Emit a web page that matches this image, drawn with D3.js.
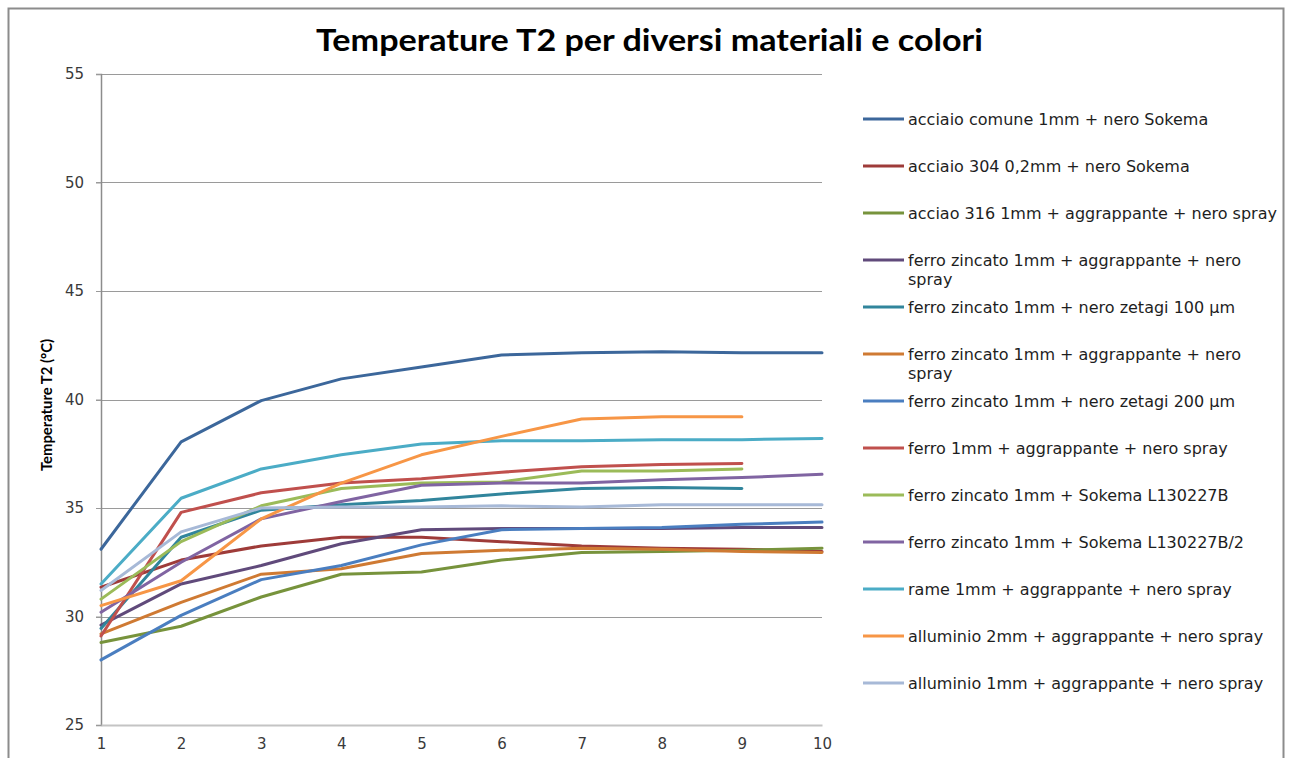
<!DOCTYPE html>
<html>
<head>
<meta charset="utf-8">
<script src="https://cdn.jsdelivr.net/npm/d3@7/dist/d3.min.js"></script>
<style>
  html, body { margin: 0; padding: 0; background: #ffffff; }
  svg { display: block; }
</style>
</head>
<body>
<svg id="chart" width="1290" height="758"></svg>
<script>
// Misurazioni (1..10) e temperature T2 in °C per ogni campione
const xValues = [1, 2, 3, 4, 5, 6, 7, 8, 9, 10];
const yTicks = [25, 30, 35, 40, 45, 50, 55];

const seriesNames = [
  "acciaio comune 1mm + nero Sokema",
  "acciaio 304 0,2mm + nero Sokema",
  "acciao 316 1mm + aggrappante + nero spray",
  "ferro zincato 1mm + aggrappante + nero spray",
  "ferro zincato 1mm + nero zetagi 100 µm",
  "ferro zincato 1mm + aggrappante + nero spray",
  "ferro zincato 1mm + nero zetagi 200 µm",
  "ferro 1mm + aggrappante + nero spray",
  "ferro zincato 1mm + Sokema L130227B",
  "ferro zincato 1mm + Sokema L130227B/2",
  "rame 1mm + aggrappante + nero spray",
  "alluminio 2mm + aggrappante + nero spray",
  "alluminio 1mm + aggrappante + nero spray"
];

const acciaioComune   = [33.1, 38.05, 39.95, 40.95, 41.5, 42.05, 42.15, 42.2, 42.15, 42.15];
const acciaio304      = [31.35, 32.6, 33.25, 33.65, 33.65, 33.45, 33.25, 33.15, 33.1, 33.0];
const acciaio316      = [28.8, 29.55, 30.9, 31.95, 32.05, 32.6, 32.95, 33.0, 33.05, 33.15];
const zincatoAggr     = [29.6, 31.5, 32.35, 33.35, 34.0, 34.05, 34.05, 34.05, 34.1, 34.1];
const zincatoZetagi100 = [29.45, 33.65, 34.9, 35.15, 35.35, 35.65, 35.9, 35.95, 35.9];
const zincatoAggrBis  = [29.2, 30.65, 31.95, 32.2, 32.9, 33.05, 33.15, 33.1, 33.0, 32.95];
const zincatoZetagi200 = [28.0, 30.05, 31.7, 32.35, 33.3, 34.0, 34.05, 34.1, 34.25, 34.35];
const ferroAggr       = [29.1, 34.8, 35.7, 36.15, 36.35, 36.65, 36.9, 37.0, 37.05];
const zincatoSokemaB  = [30.8, 33.45, 35.1, 35.9, 36.15, 36.2, 36.7, 36.7, 36.8];
const zincatoSokemaB2 = [30.2, 32.5, 34.5, 35.3, 36.05, 36.15, 36.15, 36.3, 36.4, 36.55];
const rameAggr        = [31.5, 35.45, 36.8, 37.45, 37.95, 38.1, 38.1, 38.15, 38.15, 38.2];
const alluminio2mm    = [30.5, 31.65, 34.5, 36.15, 37.45, 38.3, 39.1, 39.2, 39.2];
const alluminio1mm    = [31.2, 33.9, 35.0, 35.05, 35.05, 35.1, 35.05, 35.15, 35.15, 35.15];

const seriesValues = [
  acciaioComune, acciaio304, acciaio316, zincatoAggr, zincatoZetagi100,
  zincatoAggrBis, zincatoZetagi200, ferroAggr, zincatoSokemaB, zincatoSokemaB2,
  rameAggr, alluminio2mm, alluminio1mm
];

const seriesColors = [
  "#3C679B", "#9E3B39", "#77933C", "#604A7B", "#31859C",
  "#CF7A33", "#4A7EC0", "#C0504D", "#9BBB59", "#8064A2",
  "#4BACC6", "#F79646", "#A7B9D7"
];

const svg = d3.select("#chart");

// Cornice dell'area del grafico
svg.append("rect")
  .attr("x", 8.5).attr("y", 8.5)
  .attr("width", 1275).attr("height", 770)
  .attr("fill", "none")
  .attr("stroke", "#8c8c8c")
  .attr("stroke-width", 2);

// Scale
const x = d3.scaleLinear().domain([1, 10]).range([101, 822]);
const y = d3.scaleLinear().domain([25, 55]).range([725, 74]);

// Titolo
svg.append("text")
  .attr("x", 649.5).attr("y", 39)
  .attr("text-anchor", "middle")
  .attr("dominant-baseline", "central")
  .attr("font-family", "Lato, 'Open Sans', sans-serif")
  .attr("font-weight", "bold")
  .attr("font-size", 31)
  .attr("textLength", 667)
  .attr("lengthAdjust", "spacingAndGlyphs")
  .attr("fill", "#000")
  .text("Temperature T2 per diversi materiali e colori");

// Griglia orizzontale
svg.append("g")
  .selectAll("line")
  .data(yTicks.filter(d => d !== 25))
  .join("line")
  .attr("x1", x(1) - 5).attr("x2", x(10))
  .attr("y1", d => Math.round(y(d)) + 0.5)
  .attr("y2", d => Math.round(y(d)) + 0.5)
  .attr("stroke", "#9a9a9a")
  .attr("stroke-width", 1);

// Asse Y
const yAxis = d3.axisLeft(y).tickValues(yTicks).tickSize(5).tickPadding(12).tickFormat(d3.format("d"));
const gy = svg.append("g")
  .attr("transform", `translate(${x(1)},0)`)
  .call(yAxis);
gy.select(".domain").attr("stroke", "#8c8c8c").attr("stroke-width", 1.5);
gy.selectAll(".tick line").attr("stroke", "#9a9a9a");
gy.selectAll(".tick text")
  .attr("font-family", "'DejaVu Sans', Verdana, sans-serif")
  .attr("font-size", 15)
  .attr("fill", "#3a3a3a");

// Asse X
const xAxis = d3.axisBottom(x).tickValues(xValues).tickSize(0).tickPadding(13).tickFormat(d3.format("d"));
const gx = svg.append("g")
  .attr("transform", `translate(0,${y(25)})`)
  .call(xAxis);
gx.select(".domain").attr("stroke", "#c4c4c4").attr("stroke-width", 2);
gx.selectAll(".tick text")
  .attr("font-family", "'DejaVu Sans', Verdana, sans-serif")
  .attr("font-size", 15)
  .attr("fill", "#3a3a3a");

// Titolo asse Y
svg.append("text")
  .attr("transform", `translate(46,405) rotate(-90)`)
  .attr("text-anchor", "middle")
  .attr("dominant-baseline", "central")
  .attr("font-family", "Lato, 'Open Sans', sans-serif")
  .attr("font-weight", "bold")
  .attr("font-size", 15)
  .attr("textLength", 132)
  .attr("lengthAdjust", "spacingAndGlyphs")
  .attr("fill", "#000")
  .text("Temperature T2 (°C)");

// Linee delle serie
const line = d3.line()
  .x((d, i) => x(xValues[i]))
  .y(d => y(d));

svg.append("g")
  .selectAll("path")
  .data(seriesValues)
  .join("path")
  .attr("d", d => line(d))
  .attr("fill", "none")
  .attr("stroke", (d, i) => seriesColors[i])
  .attr("stroke-width", 3)
  .attr("stroke-linejoin", "round")
  .attr("stroke-linecap", "round");

// Legenda
const legend = svg.append("g");
const legendTop = 119, legendStep = 47, wrapWidth = 372;
seriesNames.forEach((name, i) => {
  const ly = legendTop + i * legendStep;
  legend.append("line")
    .attr("x1", 863).attr("x2", 904)
    .attr("y1", ly).attr("y2", ly)
    .attr("stroke", seriesColors[i])
    .attr("stroke-width", 3);
  const t = legend.append("text")
    .attr("x", 908).attr("y", ly)
    .attr("font-family", "'DejaVu Sans', Verdana, sans-serif")
    .attr("font-size", 16)
    .attr("fill", "#1e1e1e");
  // a capo automatico sulla larghezza disponibile
  const words = name.split(" ");
  let current = [];
  let tspan = t.append("tspan").attr("x", 908).attr("dy", "0.35em");
  words.forEach(w => {
    current.push(w);
    tspan.text(current.join(" "));
    if (tspan.node().getComputedTextLength() > wrapWidth && current.length > 1) {
      current.pop();
      tspan.text(current.join(" "));
      current = [w];
      tspan = t.append("tspan").attr("x", 908).attr("dy", 19).text(w);
    }
  });
});
</script>
</body>
</html>
